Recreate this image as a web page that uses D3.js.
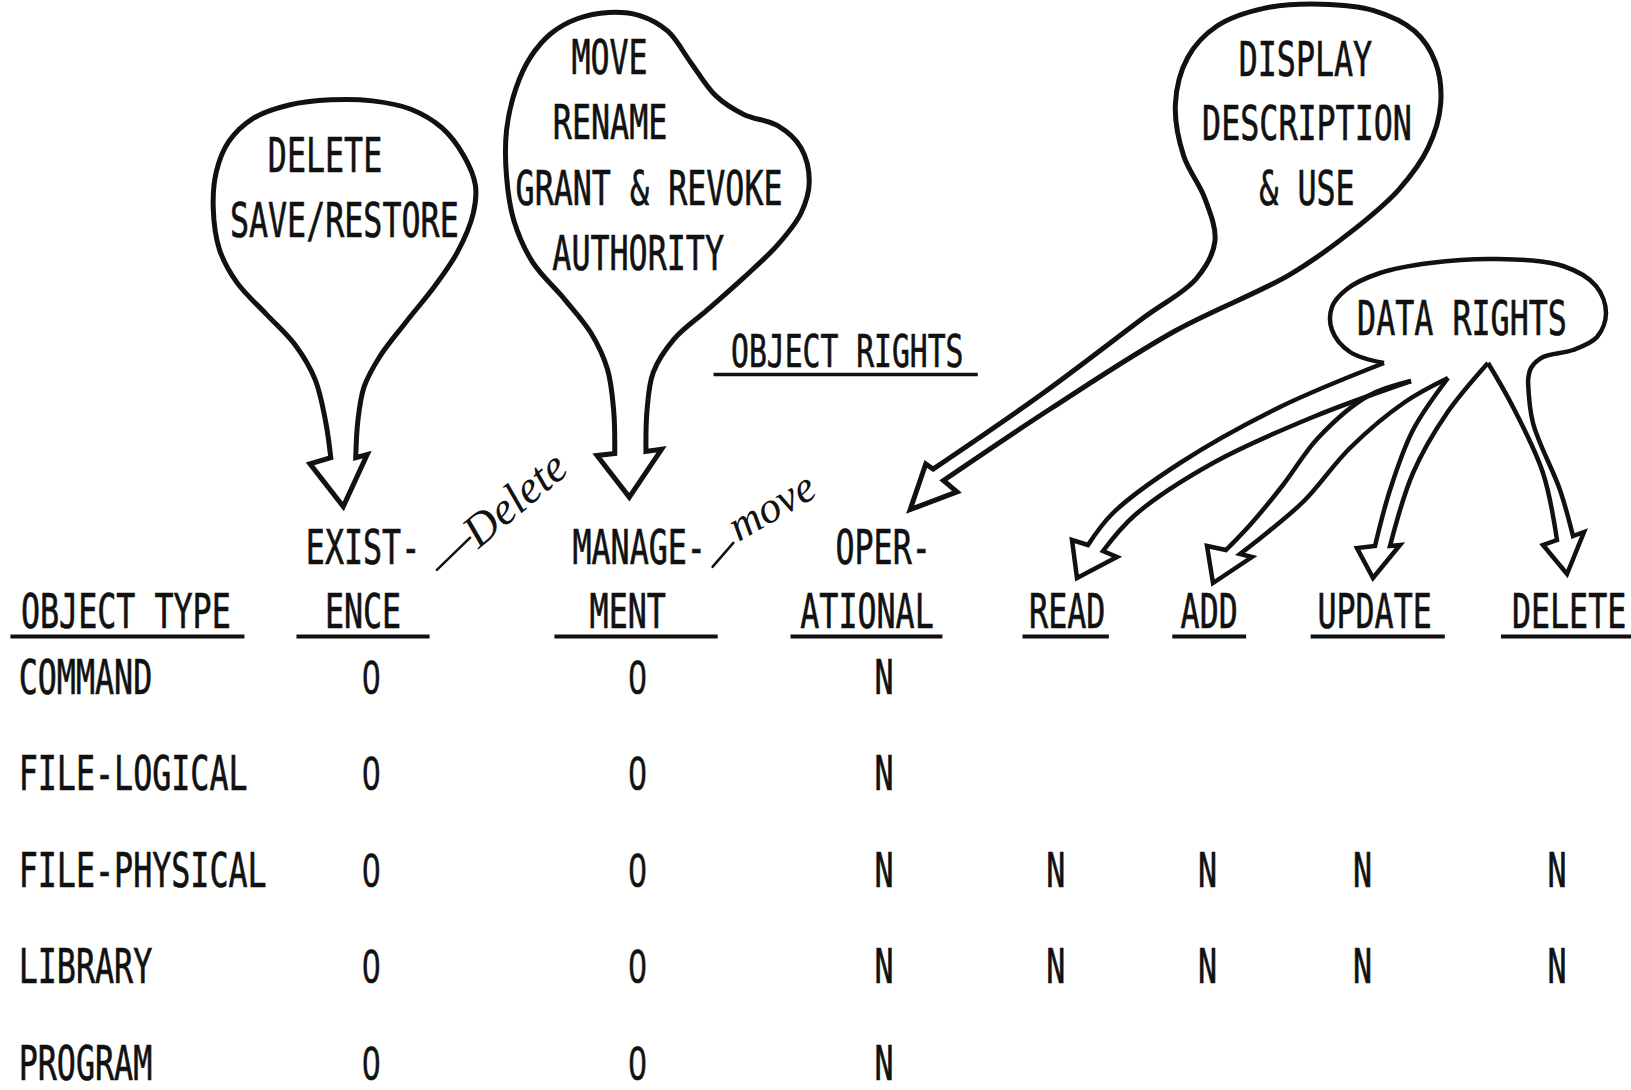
<!DOCTYPE html>
<html><head><meta charset="utf-8">
<script src="https://cdn.jsdelivr.net/npm/d3@7"></script>
<style>html,body{margin:0;padding:0;background:#fff;}svg{display:block}</style>
</head><body>
<svg id="c" width="1631" height="1090"></svg>
<script>
// ---------- data ----------
const objectTypes = ["COMMAND", "FILE-LOGICAL", "FILE-PHYSICAL", "LIBRARY", "PROGRAM"];
const rightColumns = ["EXISTENCE", "MANAGEMENT", "OPERATIONAL", "READ", "ADD", "UPDATE", "DELETE"];
const headerLine1 = ["EXIST-", "MANAGE-", "OPER-", "", "", "", ""];
const headerLine2 = ["ENCE", "MENT", "ATIONAL", "READ", "ADD", "UPDATE", "DELETE"];
const firstHeader = "OBJECT TYPE";
const existence   = ["0", "0", "0", "0", "0"];
const management  = ["0", "0", "0", "0", "0"];
const operational = ["N", "N", "N", "N", "N"];
const readRights   = ["", "", "N", "N", ""];
const addRights    = ["", "", "N", "N", ""];
const updateRights = ["", "", "N", "N", ""];
const deleteRights = ["", "", "N", "N", ""];
const balloonExistence   = ["DELETE", "SAVE/RESTORE"];
const balloonManagement  = ["MOVE", "RENAME", "GRANT & REVOKE", "AUTHORITY"];
const balloonOperational = ["DISPLAY", "DESCRIPTION", "& USE"];
const balloonData        = ["DATA RIGHTS"];
const title = "OBJECT RIGHTS";
const handNotes = ["Delete", "move"];

const values = [existence, management, operational, readRights, addRights, updateRights, deleteRights];

// ---------- scales (reference measured on a 1568x1048 copy) ----------
const sx = d3.scaleLinear().domain([0, 1568]).range([0, 1631]);
const sy = d3.scaleLinear().domain([0, 1048]).range([0, 1090]);
const colX = d3.scaleOrdinal().domain(rightColumns).range([357, 613, 850, 1015, 1161, 1310, 1497].map(sx));
const headX = d3.scaleOrdinal().domain(rightColumns).range([349, 603.5, 833.5, 1026, 1162.5, 1321.5, 1508.5].map(sx));
const head1X = d3.scaleOrdinal().domain(rightColumns).range([349, 614.5, 849, 0, 0, 0, 0].map(sx));
const lineSpan = d3.scaleOrdinal().domain(rightColumns).range([[285,413],[533,690],[760,906],[983,1066],[1127,1198],[1260,1389],[1443,1568]]);
const rowY = d3.scalePoint().domain(objectTypes).range([sy(667), sy(1038)]);

const svg = d3.select("#c");
svg.append("rect").attr("width", 1631).attr("height", 1090).attr("fill", "#fff");
const INK = "#111";
const FS = 48, SCX = 0.66;
const MONO = "'DejaVu Sans Mono','Liberation Mono',monospace";

function mono(g, str, x, y, anchor = "middle", size = FS, family = MONO) {
  g.append("text")
    .attr("transform", `translate(${x},${y}) scale(${SCX},1)`)
    .attr("text-anchor", anchor)
    .attr("font-family", family)
    .attr("font-size", size)
    .attr("fill", INK)
    .attr("stroke", INK)
    .attr("stroke-width", 0.7)
    .text(str);
}

const smooth = d3.line().x(d => sx(d[0])).y(d => sy(d[1])).curve(d3.curveCatmullRom.alpha(0.5));
const lineF = d3.line().curve(d3.curveCatmullRom.alpha(0.5));

function balloonPath(curvePts, headPts) {
  let d = smooth(curvePts);
  headPts.forEach(p => { d += `L${sx(p[0])},${sy(p[1])}`; });
  return d + "Z";
}
function arrowOutline(sideL, head, sideR) {
  let d = lineF(sideL);
  head.forEach(p => { d += `L${p[0]},${p[1]}`; });
  d += lineF(sideR.slice().reverse()).replace(/^M/, "L");
  return d;
}

const gShapes = svg.append("g").attr("fill", "none").attr("stroke", INK)
  .attr("stroke-linejoin", "miter").attr("stroke-miterlimit", 8);

// ---------- DATA RIGHTS balloon + four arrows (page pixels) ----------
const dataBody = [[1384,363],[1350,352],[1332,330],[1332,307],[1347,289],[1380,273],[1430,263],[1497,259],
                  [1563,266],[1596,286],[1606,313],[1597,337],[1573,350],[1543,357],[1531,368],[1528,381]];
gShapes.append("path").attr("d", lineF(dataBody)).attr("stroke-width", 4.5);

const dataArrows = [
  { L: [[1384,363],[1280,407],[1180,463],[1113,513],[1088,545]],
    head: [[1072,540],[1077,578],[1117,557]],
    R: [[1411,381],[1313,417],[1213,463],[1135,515],[1103,551]] },
  { L: [[1411,381],[1368,396],[1318,438],[1283,485],[1250,525],[1226,550]],
    head: [[1207,546],[1213,583],[1252,557]],
    R: [[1448,378],[1405,402],[1350,448],[1305,500],[1268,532],[1240,554]] },
  { L: [[1448,378],[1413,430],[1390,490],[1375,546]],
    head: [[1357,548],[1373,578],[1400,545]],
    R: [[1488,363],[1447,413],[1413,473],[1390,546]] },
  { L: [[1488,363],[1513,407],[1543,473],[1557,540]],
    head: [[1543,545],[1567,574],[1584,532]],
    R: [[1528,381],[1533,423],[1560,490],[1573,536]] }
];
dataArrows.forEach(a => {
  gShapes.append("path").attr("d", arrowOutline(a.L, a.head, a.R)).attr("stroke-width", 4.5);
});

// ---------- big balloons with tails (1568x1048 copy units) ----------
const balloons = [
  { curve: [[342,440],[344,405],[350,372],[365,343],[390,310],[418,275],[440,242],[455,205],[457,178],[446,150],
            [425,123],[395,105],[358,97],[318,96],[278,101],[243,114],[220,136],[208,165],[205,200],[211,240],
            [228,272],[256,302],[284,332],[303,365],[313,405],[318,440]],
    head: [[298,446],[330,487],[353,437]] },
  { curve: [[621,434],[622,395],[628,358],[648,326],[680,298],[715,267],[748,235],[770,205],[778,175],[770,142],
            [748,121],[715,110],[688,92],[664,60],[642,30],[615,15],[585,12],[555,18],[530,32],[510,55],[496,85],
            [487,125],[487,170],[494,212],[512,252],[543,288],[568,320],[584,355],[590,395],[591,436]],
    head: [[574,438],[605,478],[636,432]] },
  { curve: [[907,462],[1010,393],[1130,318],[1240,264],[1300,222],[1345,182],[1373,142],[1385,100],[1380,60],
            [1360,30],[1320,10],[1270,4],[1215,8],[1170,25],[1142,55],[1130,100],[1138,150],[1158,190],[1168,232],
            [1150,268],[1100,305],[1000,380],[897,451]],
    head: [[890,446],[875,490],[920,473]] }
];
balloons.forEach(b => {
  gShapes.append("path").attr("d", balloonPath(b.curve, b.head)).attr("stroke-width", 5);
});

// ---------- texts ----------
const gText = svg.append("g");
balloonExistence.forEach((t, i) => mono(gText, t, sx([312.5, 331][i]), sy([165, 228][i])));
balloonManagement.forEach((t, i) => mono(gText, t, sx([586, 586.5, 624, 613.5][i]), sy([71, 134, 197, 260][i])));
balloonOperational.forEach((t, i) => mono(gText, t, sx([1255, 1256.5, 1256.5][i]), sy([73, 135, 197][i])));
balloonData.forEach(t => mono(gText, t, sx(1405.5), sy(322)));
mono(gText, title, sx(814.5), sy(353), "middle", 45);

function underline(x0, x1, y, w = 4) {
  gText.append("line").attr("x1", sx(x0)).attr("x2", sx(x1)).attr("y1", sy(y)).attr("y2", sy(y))
    .attr("stroke", INK).attr("stroke-width", w);
}
underline(686, 940, 360, 3.5);

// headers
mono(gText, firstHeader, sx(121), sy(604));
underline(10, 235, 612);
rightColumns.forEach((c, i) => {
  if (headerLine1[i]) mono(gText, headerLine1[i], head1X(c), sy(542));
  mono(gText, headerLine2[i], headX(c), sy(604));
  const sp = lineSpan(c);
  underline(sp[0], sp[1], 612);
});

// rows
objectTypes.forEach((r, ri) => {
  mono(gText, r, sx(18), rowY(r), "start");
  rightColumns.forEach((c, ci) => {
    const v = values[ci][ri];
    if (v) mono(gText, v, colX(c), rowY(r), "middle", FS,
                v === "0" ? "'Liberation Sans',Arial,sans-serif" : MONO);
  });
});

// ---------- handwritten notes ----------
const gHand = svg.append("g").attr("fill", INK);
const HAND = "'Liberation Serif','DejaVu Serif',serif";
gHand.append("line").attr("x1", sx(420)).attr("y1", sy(548)).attr("x2", sx(452)).attr("y2", sy(517))
  .attr("stroke", INK).attr("stroke-width", 2.5).attr("stroke-linecap", "round");
gHand.append("text").attr("transform", `translate(${sx(460)},${sy(528)}) rotate(-40)`)
  .attr("font-family", HAND).attr("font-style", "italic").attr("font-size", 46).text(handNotes[0]);
gHand.append("line").attr("x1", sx(685)).attr("y1", sy(545)).attr("x2", sx(705)).attr("y2", sy(522))
  .attr("stroke", INK).attr("stroke-width", 2.5).attr("stroke-linecap", "round");
gHand.append("text").attr("transform", `translate(${sx(710)},${sy(521)}) rotate(-30)`)
  .attr("font-family", HAND).attr("font-style", "italic").attr("font-size", 44).text(handNotes[1]);
</script>
</body></html>
